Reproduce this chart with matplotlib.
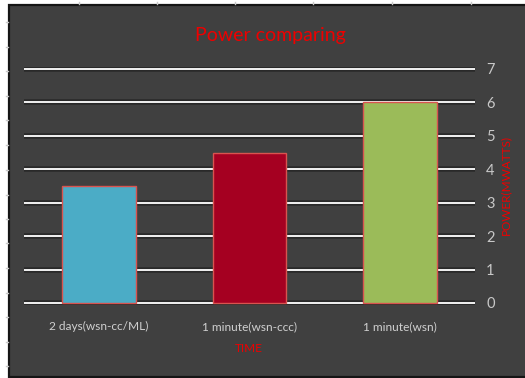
import matplotlib
matplotlib.use("Agg")
import matplotlib.pyplot as plt
import matplotlib.patheffects as pe
from matplotlib.patches import Rectangle

plt.rcParams['font.family'] = ['Lato', 'DejaVu Sans']

# Data
categories = ["2 days(wsn-cc/ML)", "1 minute(wsn-ccc)", "1 minute(wsn)"]
power = [3.5, 4.5, 6.0]
bar_colors = ["#4BACC6", "#A50021", "#9BBB59"]
y_ticks = [0, 1, 2, 3, 4, 5, 6, 7]

RED = "#EE0000"
W, H = 525, 378
fig = plt.figure(figsize=(W / 100, H / 100), dpi=100, facecolor="white")

def px(x0, y0, x1, y1):
    """pixel box (top-left origin) -> figure fraction rect"""
    return [x0 / W, 1 - y1 / H, (x1 - x0) / W, (y1 - y0) / H]

# dark chart panel on its own background axes
bg = fig.add_axes([0, 0, 1, 1], zorder=-5)
bg.set_xlim(0, W)
bg.set_ylim(H, 0)
bg.axis("off")
bg.add_patch(Rectangle((9, 5), 518, 372, facecolor="#404040",
                       edgecolor="#151515", linewidth=1.6))

# page ruler marks
for xr in [79, 157, 235, 313, 392, 471]:
    bg.plot([xr, xr], [1.5, 4], color="#c8c8c8", lw=1.0)
for yr in [22, 47, 71, 96, 120, 145, 170, 195, 219, 243, 268, 293, 317, 342, 366]:
    bg.plot([5.5, 8], [yr, yr], color="#c8c8c8", lw=1.0)

# plot area
ymin, ymax = -0.05, 7.05
unit = (303 - 69) / 7.0
top_px = 69 - (ymax - 7) * unit
bot_px = 303 + (0 - ymin) * unit
ax = fig.add_axes(px(24, top_px, 475, bot_px), zorder=1)
ax.set_facecolor("none")
ax.set_xlim(-0.5, 2.5)
ax.set_ylim(ymin, ymax)
for s in ax.spines.values():
    s.set_visible(False)

# gridlines with a soft shadow
for yv in y_ticks:
    ax.axhline(yv, color="#f2f2f2", lw=1.4, zorder=1,
               path_effects=[pe.Stroke(linewidth=4, foreground="#202020", alpha=0.7),
                             pe.Normal()])

x = list(range(len(categories)))
ax.bar(x, power, width=0.49, color=bar_colors, edgecolor="#D9534F",
       linewidth=1.0, zorder=3)

ax.set_xticks(x)
ax.set_xticklabels(categories, color="#D0D0D0", fontsize=8.6)
ax.tick_params(axis="x", length=0, pad=12)

ax.yaxis.tick_right()
ax.set_yticks(y_ticks)
ax.set_yticklabels([str(v) for v in y_ticks], color="#C8C8C8", fontsize=10.5)
ax.tick_params(axis="y", length=0, pad=8)

ax.yaxis.set_label_position("right")
ax.set_ylabel("POWER(MWATTS)", color=RED, fontsize=8.5, rotation=90,
              va="center", ha="center")
ax.yaxis.set_label_coords((506 - 24) / 451, (bot_px - 185) / (bot_px - top_px))

ax.set_xlabel("TIME", color=RED, fontsize=8.5, va="center")
ax.xaxis.set_label_coords((249 - 24) / 451, (bot_px - 348) / (bot_px - top_px))

fig.text(270 / W, 1 - 35 / H, "Power comparing", color=RED,
         fontsize=14, ha="center", va="center")

fig.savefig("out.png", dpi=100, facecolor="white")
